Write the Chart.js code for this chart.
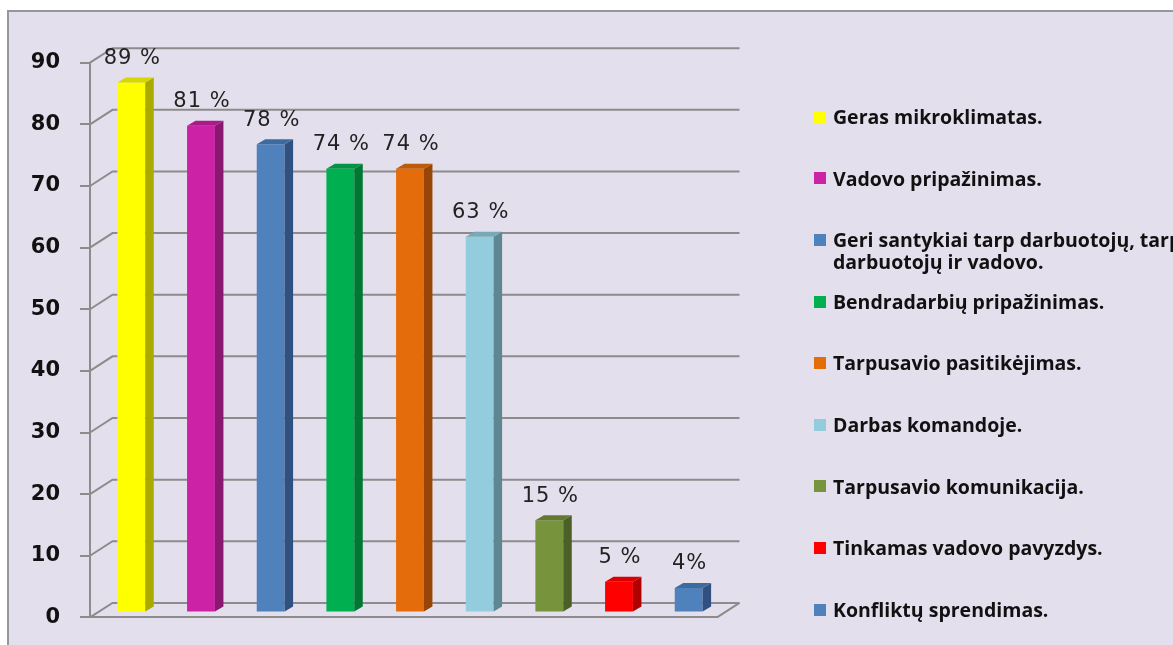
<!DOCTYPE html>
<html>
<head>
<meta charset="utf-8">
<script src="https://cdn.jsdelivr.net/npm/chart.js@4"></script>
<style>
  body { margin: 0; background: #fff; }
  #wrap { position: relative; width: 1173px; height: 645px; overflow: hidden; }
  #frame { position: absolute; left: 7px; top: 10px; width: 1200px; height: 700px;
           background: #e4dfec; border: 2px solid #979797; box-sizing: border-box; }
  #chart { position: absolute; left: 0; top: 0; }
  #legend { position: absolute; left: 814px; top: 106px; font-family: "Open Sans", Lato, sans-serif;
            font-weight: 700; font-size: 19.5px; color: #111; }
  .item { position: relative; height: 61.6px; line-height: 21.6px; padding-left: 19px; white-space: pre; }
  .box { position: absolute; left: 0; top: 4.8px; width: 12px; height: 12px; }
</style>
</head>
<body>
<div id="wrap">
  <div id="frame"></div>
  <canvas id="chart" width="1173" height="650"></canvas>
  <div id="legend"></div>
</div>
<script>
// categories and values
var categories = [
    "Geras mikroklimatas.",
    "Vadovo pripažinimas.",
    "Geri santykiai tarp darbuotojų, tarp\ndarbuotojų ir vadovo.",
    "Bendradarbių pripažinimas.",
    "Tarpusavio pasitikėjimas.",
    "Darbas komandoje.",
    "Tarpusavio komunikacija.",
    "Tinkamas vadovo pavyzdys.",
    "Konfliktų sprendimas."
];
// bar heights as drawn against the axis
var barValues = [86, 79, 76, 72, 72, 61, 15, 5, 4];
// labels as printed above the bars
var percentLabels = ["89 %", "81 %", "78 %", "74 %", "74 %", "63 %", "15 %", "5 %", "4%"];

var frontColors = ["#ffff00", "#cc22a6", "#4f81bd", "#00b050", "#e46c0a", "#93cddd", "#77933c", "#ff0000", "#4f81bd"];
var sideColors  = ["#aaaa00", "#8a1770", "#30517f", "#007833", "#964606", "#5f8791", "#4c5f26", "#b00000", "#30517f"];
var topColors   = ["#d6d600", "#a81c8a", "#3f6a9e", "#009443", "#be5a08", "#78a9b6", "#617a31", "#d80000", "#3f6a9e"];

// depth of the plot box, and where the bars sit inside it
var DEPTH_X = 22.5, DEPTH_Y = -14.5;
var BAR_X = 6.5, BAR_Y = -4.8;
var SIDE_X = 8.5, SIDE_Y = -5;

var gridColor = "#8c8c8c";

var depth3d = {
    id: "depth3d",
    beforeDatasetsDraw: function(chart) {
        var ctx = chart.ctx;
        var area = chart.chartArea;
        var y = chart.scales.y;
        ctx.save();
        ctx.strokeStyle = gridColor;
        ctx.lineWidth = 2;
        y.ticks.forEach(function(t) {
            var py = y.getPixelForValue(t.value);
            ctx.beginPath();
            ctx.moveTo(area.left, py);
            ctx.lineTo(area.left + DEPTH_X, py + DEPTH_Y);
            ctx.lineTo(area.right + DEPTH_X, py + DEPTH_Y);
            ctx.stroke();
        });
        // right edge of the floor
        ctx.beginPath();
        ctx.moveTo(area.right, area.bottom);
        ctx.lineTo(area.right + DEPTH_X, area.bottom + DEPTH_Y);
        ctx.stroke();
        ctx.restore();

        ctx.save();
        ctx.translate(BAR_X, BAR_Y);
    },
    afterDatasetsDraw: function(chart) {
        var ctx = chart.ctx;
        var meta = chart.getDatasetMeta(0);
        meta.data.forEach(function(bar, i) {
            var l = bar.x - bar.width / 2, r = bar.x + bar.width / 2;
            ctx.fillStyle = sideColors[i];
            ctx.beginPath();
            ctx.moveTo(r, bar.y);
            ctx.lineTo(r + SIDE_X, bar.y + SIDE_Y);
            ctx.lineTo(r + SIDE_X, bar.base + SIDE_Y);
            ctx.lineTo(r, bar.base);
            ctx.closePath();
            ctx.fill();
            ctx.fillStyle = topColors[i];
            ctx.beginPath();
            ctx.moveTo(l, bar.y);
            ctx.lineTo(l + SIDE_X, bar.y + SIDE_Y);
            ctx.lineTo(r + SIDE_X, bar.y + SIDE_Y);
            ctx.lineTo(r, bar.y);
            ctx.closePath();
            ctx.fill();
        });
        // labels
        ctx.font = "21px 'DejaVu Sans'";
        ctx.letterSpacing = "1px";
        ctx.fillStyle = "#222";
        ctx.textAlign = "center";
        ctx.textBaseline = "middle";
        meta.data.forEach(function(bar, i) {
            ctx.fillText(percentLabels[i], bar.x + 1, bar.y - 24);
        });
        ctx.restore();
    }
};

new Chart(document.getElementById("chart"), {
    type: "bar",
    data: {
        labels: categories,
        datasets: [{
            data: barValues,
            backgroundColor: frontColors,
            borderWidth: 0,
            barPercentage: 0.4,
            categoryPercentage: 1
        }]
    },
    options: {
        responsive: false,
        animation: false,
        devicePixelRatio: 1,
        layout: { padding: { left: 0, top: 62.7, right: 456, bottom: 27.7 } },
        plugins: {
            legend: { display: false },
            tooltip: { enabled: false }
        },
        scales: {
            x: {
                ticks: { display: false },
                grid: { display: true, drawOnChartArea: false, drawTicks: false, color: gridColor, lineWidth: 2 },
                border: { display: true, color: gridColor, width: 2 },
                afterFit: function(s) { s.height = 0; }
            },
            y: {
                min: 0,
                max: 90,
                ticks: { stepSize: 10, padding: 20, color: "#111", font: { family: "DejaVu Sans", size: 21, weight: "bold" } },
                grid: { drawOnChartArea: false, drawTicks: true, tickLength: 10, color: gridColor, lineWidth: 2 },
                border: { display: true, color: gridColor, width: 2 },
                afterFit: function(s) { s.width = 90; }
            }
        }
    },
    plugins: [depth3d]
});

// legend from the same arrays
var legend = document.getElementById("legend");
categories.forEach(function(name, i) {
    var item = document.createElement("div");
    item.className = "item";
    var box = document.createElement("span");
    box.className = "box";
    box.style.background = frontColors[i];
    item.appendChild(box);
    item.appendChild(document.createTextNode(name));
    legend.appendChild(item);
});
</script>
</body>
</html>
